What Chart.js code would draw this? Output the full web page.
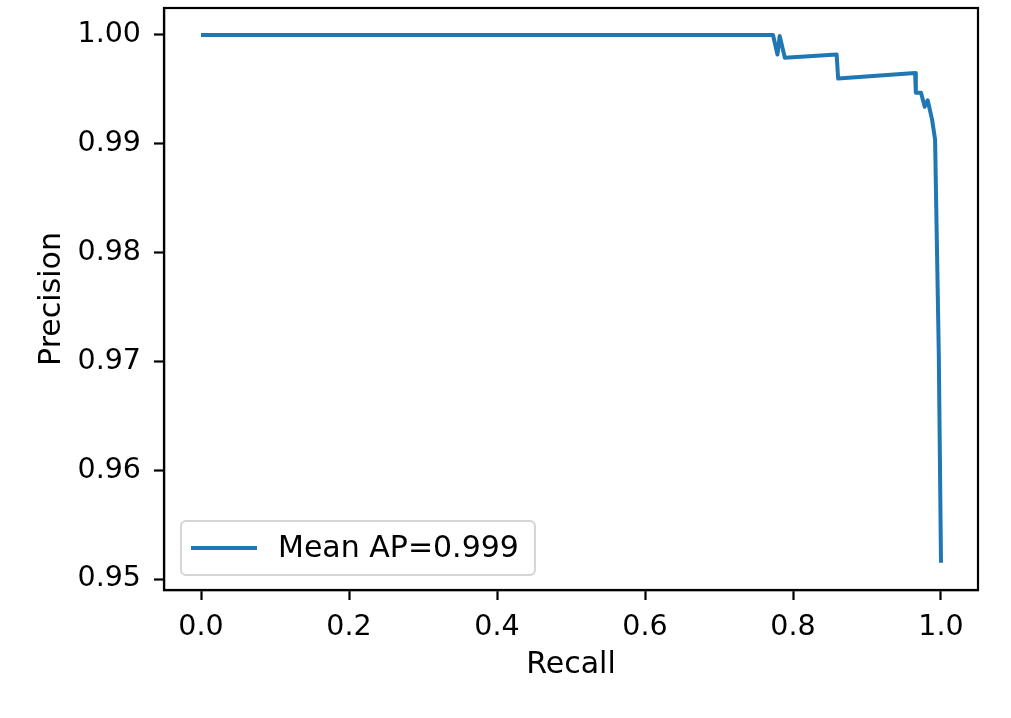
<!DOCTYPE html>
<html>
<head>
<meta charset="utf-8">
<script src="https://cdn.jsdelivr.net/npm/chart.js@4/dist/chart.umd.min.js"></script>
<style>
  html, body { margin: 0; padding: 0; background: #fff; }
  #wrap { width: 1011px; height: 718px; }
</style>
</head>
<body>
<div id="wrap"><canvas id="chart"></canvas></div>
<script>
// precision-recall curve
const recall = [0.0, 0.773, 0.779, 0.782, 0.789, 0.859, 0.861, 0.965, 0.966, 0.973,
    0.978, 0.982, 0.985, 0.988, 0.992, 0.997, 1.0];
const precision = [1.0, 1.0, 0.9982, 0.9999, 0.9979, 0.9982, 0.9960, 0.9965, 0.9947, 0.9947,
    0.9934, 0.9940, 0.9931, 0.9922, 0.9904, 0.9708, 0.9515];

const xTicks = [0.0, 0.2, 0.4, 0.6, 0.8, 1.0];
const yTicks = [0.95, 0.96, 0.97, 0.98, 0.99, 1.00];
const seriesLabel = "Mean AP=0.999";

const FONT = "'DejaVu Sans', sans-serif";
const blue = "#1f77b4";

// matplotlib-like frame + legend box inside the axes
const framePlugin = {
    id: "frame",
    afterDraw(chart) {
        const ctx = chart.ctx;
        const ca = chart.chartArea;
        ctx.save();
        ctx.strokeStyle = "#000";
        ctx.lineWidth = 2.2;
        ctx.strokeRect(ca.left, ca.top, ca.right - ca.left, ca.bottom - ca.top);

        // legend
        ctx.font = "30px " + FONT;
        const tw = ctx.measureText(seriesLabel).width;
        const h = 54;
        const x0 = ca.left + 17;
        const y0 = ca.bottom - 15 - h;
        const w = 10 + 66 + 21 + tw + 16;
        ctx.beginPath();
        ctx.roundRect(x0, y0, w, h, 5);
        ctx.fillStyle = "rgba(255,255,255,0.8)";
        ctx.fill();
        ctx.strokeStyle = "#d5d5d5";
        ctx.lineWidth = 2;
        ctx.stroke();

        ctx.beginPath();
        ctx.moveTo(x0 + 10, y0 + h / 2);
        ctx.lineTo(x0 + 76, y0 + h / 2);
        ctx.strokeStyle = blue;
        ctx.lineWidth = 4;
        ctx.stroke();

        ctx.fillStyle = "#000";
        ctx.textBaseline = "middle";
        ctx.textAlign = "left";
        ctx.fillText(seriesLabel, x0 + 97, y0 + h / 2 + 1);
        ctx.restore();
    }
};

const points = recall.map((r, i) => ({ x: r, y: precision[i] }));

new Chart(document.getElementById("chart"), {
    type: "scatter",
    data: {
        datasets: [{
            label: seriesLabel,
            data: points,
            showLine: true,
            borderColor: blue,
            backgroundColor: blue,
            borderWidth: 4,
            borderJoinStyle: "round",
            borderCapStyle: "butt",
            pointRadius: 0,
            tension: 0
        }]
    },
    options: {
        responsive: true,
        maintainAspectRatio: false,
        animation: false,
        layout: { padding: { left: 0, right: 33, top: 8, bottom: 0 } },
        plugins: {
            legend: { display: false },
            tooltip: { enabled: false }
        },
        scales: {
            x: {
                type: "linear",
                min: -0.05,
                max: 1.05,
                afterBuildTicks: s => { s.ticks = xTicks.map(v => ({ value: v })); },
                afterFit: s => { s.height = 128; },
                ticks: {
                    color: "#000",
                    font: { family: FONT, size: 28.5 },
                    padding: 10,
                    maxRotation: 0,
                    callback: v => v.toFixed(1)
                },
                grid: { display: true, drawOnChartArea: false, drawTicks: true, tickLength: 10, tickColor: "#000", tickWidth: 2.2 },
                border: { display: true, color: "#000", width: 2.2 },
                title: {
                    display: true,
                    text: "Recall",
                    color: "#000",
                    font: { family: FONT, size: 30 },
                    padding: { top: 0, bottom: 35 }
                }
            },
            y: {
                type: "linear",
                min: 0.94899,
                max: 1.00248,
                afterBuildTicks: s => { s.ticks = yTicks.map(v => ({ value: v })); },
                afterFit: s => { s.width = 164; s.paddingTop = 0; s.paddingBottom = 0; },
                ticks: {
                    color: "#000",
                    font: { family: FONT, size: 28.5 },
                    padding: 13,
                    callback: v => v.toFixed(2)
                },
                grid: { display: true, drawOnChartArea: false, drawTicks: true, tickLength: 10, tickColor: "#000", tickWidth: 2.2 },
                border: { display: true, color: "#000", width: 2.2 },
                title: {
                    display: true,
                    text: "Precision",
                    color: "#000",
                    font: { family: FONT, size: 30 },
                    padding: { top: 34, bottom: 0 }
                }
            }
        }
    },
    plugins: [framePlugin]
});
</script>
</body>
</html>
